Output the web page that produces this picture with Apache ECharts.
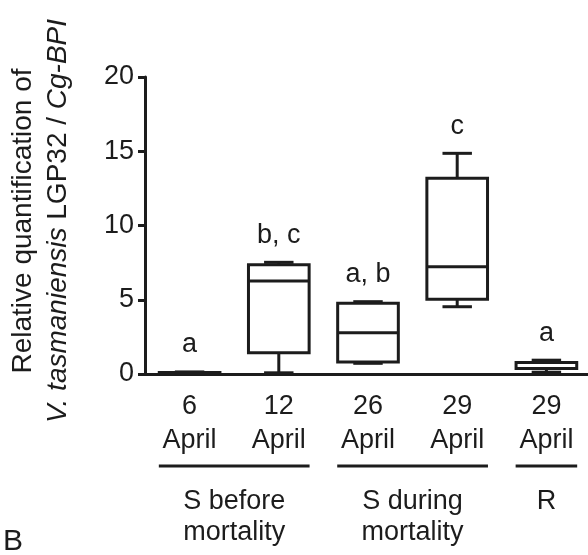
<!DOCTYPE html>
<html>
<head>
<meta charset="utf-8">
<script src="https://cdn.jsdelivr.net/npm/echarts@6/dist/echarts.min.js"></script>
<style>
html,body{margin:0;padding:0;background:#fff;}
#c{width:588px;height:555px;}
</style>
</head>
<body>
<div id="c"></div>
<script>
// ---- data ----
const categories = ['6\nApril', '12\nApril', '26\nApril', '29\nApril', '29\nApril'];
const whiskerLow  = [0.02, 0.08, 0.72, 4.53, 0.12];
const quartile1   = [0.04, 1.43, 0.81, 5.03, 0.37];
const medians     = [0.07, 6.26, 2.78, 7.23, 0.77];
const quartile3   = [0.10, 7.36, 4.76, 13.18, 0.78];
const whiskerHigh = [0.14, 7.52, 4.87, 14.86, 0.93];
const sigLetters  = ['a', 'b, c', 'a, b', 'c', 'a'];
const groupNames  = ['S before\nmortality', 'S during\nmortality', 'R'];
const groupFrom   = [0, 2, 4];
const groupTo     = [1, 3, 4];
const yTicks      = [0, 5, 10, 15, 20];

const INK = '#1c1c1c';
const FONT = '"Liberation Sans", Arial, sans-serif';

const boxData = categories.map((c, i) =>
  [i, whiskerLow[i], quartile1[i], medians[i], quartile3[i], whiskerHigh[i]]);
const groupData = groupNames.map((g, i) => [groupFrom[i], groupTo[i], i]);

function renderBox(params, api) {
  const i = api.value(0);
  const lo = api.coord([i, api.value(1)]);
  const q1 = api.coord([i, api.value(2)]);
  const md = api.coord([i, api.value(3)]);
  const q3 = api.coord([i, api.value(4)]);
  const hi = api.coord([i, api.value(5)]);
  const band = api.size([1, 0])[0];
  const bw = band * 0.68, cw = band * 0.33;
  const x = lo[0];
  const ls = {stroke: INK, lineWidth: 3, lineCap: 'butt'};
  return {
    type: 'group',
    children: [
      {type: 'line', shape: {x1: x, y1: hi[1], x2: x, y2: q3[1]}, style: ls},
      {type: 'line', shape: {x1: x, y1: q1[1], x2: x, y2: lo[1]}, style: ls},
      {type: 'line', shape: {x1: x - cw / 2, y1: hi[1], x2: x + cw / 2, y2: hi[1]}, style: ls},
      {type: 'line', shape: {x1: x - cw / 2, y1: lo[1], x2: x + cw / 2, y2: lo[1]}, style: ls},
      {type: 'rect', shape: {x: x - bw / 2, y: q3[1], width: bw, height: q1[1] - q3[1]},
        style: {stroke: INK, lineWidth: 3, fill: 'rgba(255,255,255,0)', lineJoin: 'miter'}},
      {type: 'line', shape: {x1: x - bw / 2, y1: md[1], x2: x + bw / 2, y2: md[1]}, style: ls},
      {type: 'text', x: x, y: hi[1] - 27,
        style: {text: sigLetters[i], fill: INK, font: '27px ' + FONT,
          align: 'center', verticalAlign: 'middle'}}
    ]
  };
}

function renderGroup(params, api) {
  const a = api.coord([api.value(0), 0]);
  const b = api.coord([api.value(1), 0]);
  const band = api.size([1, 0])[0];
  const x1 = a[0] - band * 0.345, x2 = b[0] + band * 0.345;
  const yl = a[1] + 92;
  return {
    type: 'group',
    children: [
      {type: 'line', shape: {x1: x1, y1: yl, x2: x2, y2: yl},
        style: {stroke: INK, lineWidth: 3}},
      {type: 'text', x: (x1 + x2) / 2, y: a[1] + 112,
        style: {text: groupNames[api.value(2)], fill: INK, font: '27px ' + FONT,
          align: 'center', verticalAlign: 'top', lineHeight: 31}}
    ]
  };
}

const chart = echarts.init(document.getElementById('c'), null, {renderer: 'canvas'});
chart.setOption({
  backgroundColor: '#fff',
  animation: false,
  grid: {left: 145, top: 77, width: 446, height: 297, containLabel: false, outerBoundsMode: 'none'},
  xAxis: {
    type: 'category',
    data: categories,
    boundaryGap: true,
    axisLine: {lineStyle: {color: INK, width: 3}},
    axisTick: {alignWithLabel: true, length: 8, lineStyle: {color: INK, width: 3}},
    axisLabel: {color: INK, fontSize: 27, fontFamily: FONT, lineHeight: 34, margin: 16, interval: 0},
    splitLine: {show: false}
  },
  yAxis: {
    type: 'value',
    min: yTicks[0], max: yTicks[yTicks.length - 1], interval: yTicks[1] - yTicks[0],
    axisLine: {show: true, lineStyle: {color: INK, width: 3}},
    axisTick: {show: true, length: 7, lineStyle: {color: INK, width: 3}},
    axisLabel: {color: INK, fontSize: 27, fontFamily: FONT, margin: 11},
    splitLine: {show: false}
  },
  graphic: [
    {
      type: 'text', x: 23, y: 221, rotation: Math.PI / 2,
      style: {
        text: 'Relative quantification of',
        align: 'center', verticalAlign: 'middle', fill: INK,
        font: '28px ' + FONT
      }
    },
    {
      type: 'text', x: 58, y: 221, rotation: Math.PI / 2,
      style: {
        text: '{i|V. tasmaniensis}{n| LGP32 / }{i|Cg-BPI}',
        align: 'center', verticalAlign: 'middle', fill: INK,
        font: '28px ' + FONT,
        rich: {
          n: {font: '28px ' + FONT, fill: INK},
          i: {font: 'italic 28px ' + FONT, fill: INK}
        }
      }
    },
    {
      type: 'text', left: 3, top: 527,
      style: {text: 'B', fill: INK, font: '30px ' + FONT}
    }
  ],
  series: [
    {type: 'custom', renderItem: renderBox, data: boxData,
      encode: {x: 0, y: [1, 2, 3, 4, 5]}, clip: false, z: 5},
    {type: 'custom', renderItem: renderGroup, data: groupData,
      encode: {x: [0, 1]}, clip: false, silent: true}
  ]
});
</script>
</body>
</html>
